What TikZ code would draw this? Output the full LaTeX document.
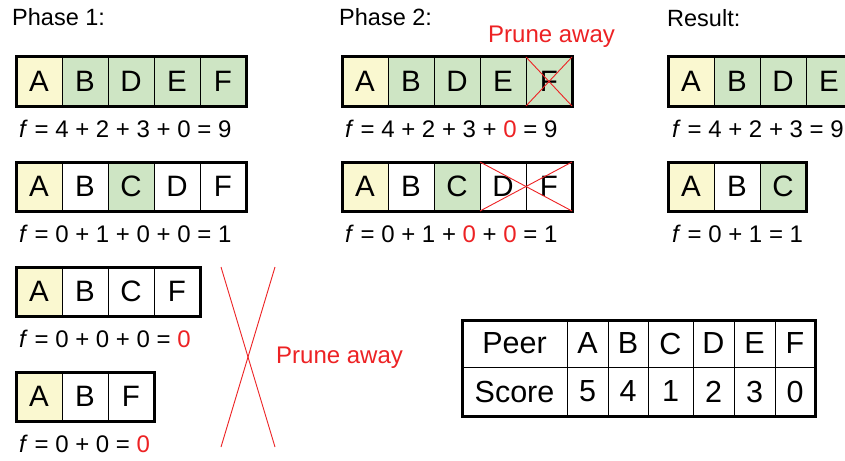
\documentclass[tikz,border=0pt]{standalone}
\usepackage{fontspec}
\setmainfont{Liberation Sans}
\definecolor{cellyellow}{RGB}{250,248,208}
\definecolor{cellgreen}{RGB}{206,229,196}
\definecolor{prunered}{RGB}{237,34,36}
\begin{document}
\begin{tikzpicture}[x=1pt,y=-1pt,
  cell/.style={draw=black, line width=1pt, minimum width=46pt, minimum height=49pt,
    inner sep=0pt, outer sep=0pt, anchor=north west, font=\fontsize{29.5}{30}\selectfont},
  yel/.style={cell, fill=cellyellow},
  grn/.style={cell, fill=cellgreen},
  wht/.style={cell, fill=white},
  frame/.style={draw=black, line width=3pt},
  ftext/.style={anchor=base west, inner sep=0pt, font=\fontsize{24}{25}\selectfont},
  label/.style={anchor=base west, inner sep=0pt, font=\fontsize{23.5}{24}\selectfont},
  prune/.style={anchor=base west, inner sep=0pt, text=prunered, font=\fontsize{24}{25}\selectfont},
  cross/.style={draw=prunered, line width=0.9pt},
  tcell/.style={draw=black, line width=1pt, inner sep=0pt, outer sep=0pt,
    anchor=north west, font=\fontsize{30.5}{31}\selectfont}]
\clip (0,0) rectangle (845,460);
\fill[white] (0,0) rectangle (845,460);

% column headings
\node[label] (h1) at (12,26) {Phase 1:};
\node[label] (h2) at (339,26) {Phase 2:};
\node[label] (h3) at (667,27) {Result:};

% ---------------- Phase 1 ----------------
\node[yel] (a1) at (16,57) {A};
\node[grn] (a2) at (a1.north east) {B};
\node[grn] (a3) at (a2.north east) {D};
\node[grn] (a4) at (a3.north east) {E};
\node[grn] (a5) at (a4.north east) {F};
\draw[frame] (a1.north west) rectangle (a5.south east);
\node[ftext] (fa) at (19,137) {\textit{f} = 4 + 2 + 3 + 0 = 9};

\node[yel] (b1) at (16,162) {A};
\node[wht] (b2) at (b1.north east) {B};
\node[grn] (b3) at (b2.north east) {C};
\node[wht] (b4) at (b3.north east) {D};
\node[wht] (b5) at (b4.north east) {F};
\draw[frame] (b1.north west) rectangle (b5.south east);
\node[ftext] (fb) at (19,242) {\textit{f} = 0 + 1 + 0 + 0 = 1};

\node[yel] (c1) at (16,267) {A};
\node[wht] (c2) at (c1.north east) {B};
\node[wht] (c3) at (c2.north east) {C};
\node[wht] (c4) at (c3.north east) {F};
\draw[frame] (c1.north west) rectangle (c4.south east);
\node[ftext] (fc) at (19,347) {\textit{f} = 0 + 0 + 0 = {\color{prunered}0}};

\node[yel] (d1) at (16,372) {A};
\node[wht] (d2) at (d1.north east) {B};
\node[wht] (d3) at (d2.north east) {F};
\draw[frame] (d1.north west) rectangle (d3.south east);
\node[ftext] (fd) at (19,452) {\textit{f} = 0 + 0 = {\color{prunered}0}};

% pruned branches
\coordinate (xtl) at (221,267);
\coordinate (xtr) at (275,267);
\coordinate (xbl) at (221,447);
\coordinate (xbr) at (275,447);
\draw[cross] (xtl) -- (xbr);
\draw[cross] (xtr) -- (xbl);
\node[prune] (pr1) at (276,363) {Prune away};

% ---------------- Phase 2 ----------------
\node[prune] (pr2) at (488,42) {Prune away};
\node[yel] (e1) at (342,57) {A};
\node[grn] (e2) at (e1.north east) {B};
\node[grn] (e3) at (e2.north east) {D};
\node[grn] (e4) at (e3.north east) {E};
\node[grn] (e5) at (e4.north east) {F};
\draw[frame] (e1.north west) rectangle (e5.south east);
\draw[cross] (e5.north west) -- (e5.south east);
\draw[cross] (e5.south west) -- (e5.north east);
\node[ftext] (fe) at (345,137) {\textit{f} = 4 + 2 + 3 + {\color{prunered}0} = 9};

\node[yel] (g1) at (342,162) {A};
\node[wht] (g2) at (g1.north east) {B};
\node[grn] (g3) at (g2.north east) {C};
\node[wht] (g4) at (g3.north east) {D};
\node[wht] (g5) at (g4.north east) {F};
\draw[frame] (g1.north west) rectangle (g5.south east);
\draw[cross] (g4.north west) -- (g5.south east);
\draw[cross] (g4.south west) -- (g5.north east);
\node[ftext] (fg) at (345,242) {\textit{f} = 0 + 1 + {\color{prunered}0} + {\color{prunered}0} = 1};

% ---------------- Result ----------------
\node[yel] (r1) at (668,57) {A};
\node[grn] (r2) at (r1.north east) {B};
\node[grn] (r3) at (r2.north east) {D};
\node[grn] (r4) at (r3.north east) {E};
\draw[frame] (r1.north west) rectangle (r4.south east);
\node[ftext] (fr) at (672,137) {\textit{f} = 4 + 2 + 3 = 9};

\node[yel] (s1) at (668,162) {A};
\node[wht] (s2) at (s1.north east) {B};
\node[grn] (s3) at (s2.north east) {C};
\draw[frame] (s1.north west) rectangle (s3.south east);
\node[ftext] (fs) at (672,242) {\textit{f} = 0 + 1 = 1};

% ---------------- score table ----------------
\node[tcell, minimum width=105pt, minimum height=47pt] (tpeer) at (462,320) {Peer};
\node[tcell, minimum width=41pt, minimum height=47pt] (tA) at (tpeer.north east) {A};
\node[tcell, minimum width=40pt, minimum height=47pt] (tB) at (tA.north east) {B};
\node[tcell, minimum width=45pt, minimum height=47pt] (tC) at (tB.north east) {C};
\node[tcell, minimum width=41pt, minimum height=47pt] (tD) at (tC.north east) {D};
\node[tcell, minimum width=41pt, minimum height=47pt] (tE) at (tD.north east) {E};
\node[tcell, minimum width=40pt, minimum height=47pt] (tF) at (tE.north east) {F};
\node[tcell, minimum width=105pt, minimum height=49pt] (tscore) at (tpeer.south west) {Score};
\node[tcell, minimum width=41pt, minimum height=49pt] (sA) at (tscore.north east) {5};
\node[tcell, minimum width=40pt, minimum height=49pt] (sB) at (sA.north east) {4};
\node[tcell, minimum width=45pt, minimum height=49pt] (sC) at (sB.north east) {1};
\node[tcell, minimum width=41pt, minimum height=49pt] (sD) at (sC.north east) {2};
\node[tcell, minimum width=41pt, minimum height=49pt] (sE) at (sD.north east) {3};
\node[tcell, minimum width=40pt, minimum height=49pt] (sF) at (sE.north east) {0};
\draw[frame] (tpeer.north west) rectangle (sF.south east);
\end{tikzpicture}
\end{document}
